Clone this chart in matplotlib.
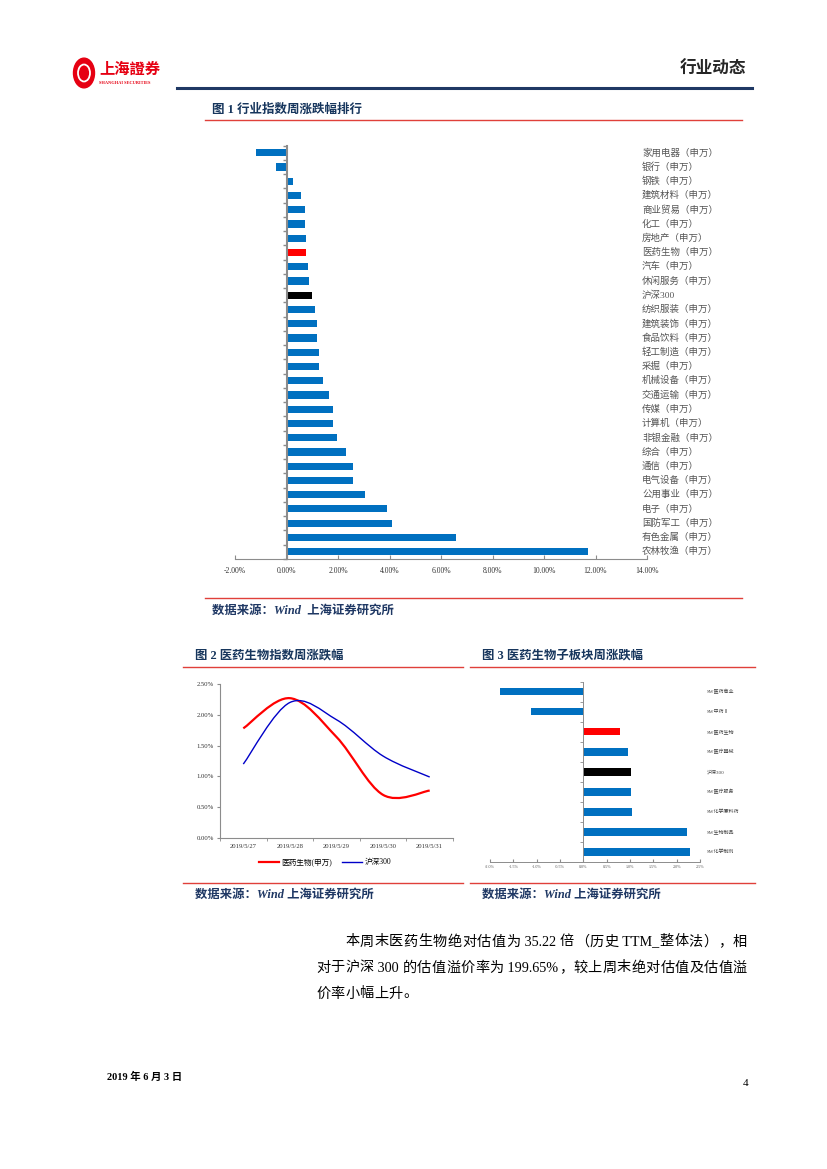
import re
import numpy as np
import matplotlib
matplotlib.use("Agg")
import matplotlib.pyplot as plt
from matplotlib.lines import Line2D
from matplotlib.path import Path
from matplotlib.patches import PathPatch, Circle

plt.rcParams['font.family'] = ['Liberation Serif', 'Noto Sans CJK SC']

# ---- data ----
# figure 1: industry index weekly change (%)
industries = ['家用电器（申万）', '银行（申万）', '钢铁（申万）', '建筑材料（申万）', '商业贸易（申万）',
              '化工（申万）', '房地产（申万）', '医药生物（申万）', '汽车（申万）', '休闲服务（申万）',
              '沪深300', '纺织服装（申万）', '建筑装饰（申万）', '食品饮料（申万）', '轻工制造（申万）',
              '采掘（申万）', '机械设备（申万）', '交通运输（申万）', '传媒（申万）', '计算机（申万）',
              '非银金融（申万）', '综合（申万）', '通信（申万）', '电气设备（申万）', '公用事业（申万）',
              '电子（申万）', '国防军工（申万）', '有色金属（申万）', '农林牧渔（申万）']
industry_change = [-1.18, -0.39, 0.26, 0.57, 0.73, 0.73, 0.77, 0.77, 0.84, 0.89,
                   1.00, 1.12, 1.20, 1.20, 1.28, 1.28, 1.43, 1.66, 1.82, 1.82,
                   1.97, 2.32, 2.59, 2.59, 3.06, 3.90, 4.10, 6.58, 11.72]

# figure 2: daily change of the pharma index vs CSI 300 (%)
dates = ['2019/5/27', '2019/5/28', '2019/5/29', '2019/5/30', '2019/5/31']
pharma_daily = [1.78, 2.27, 1.64, 0.70, 0.77]
hs300_daily = [1.20, 2.20, 1.92, 1.33, 0.99]

# figure 3: pharma sub-sector weekly change (%)
sub_sectors = ['SW医药商业', 'SW中药Ⅱ', 'SW医药生物', 'SW医疗器械', '沪深300',
               'SW医疗服务', 'SW化学原料药', 'SW生物制品', 'SW化学制剂']
sub_change = [-1.79, -1.12, 0.78, 0.95, 1.02, 1.02, 1.04, 2.22, 2.28]

# body paragraph, one entry per printed line
body_lines = ['本周末医药生物绝对估值为 35.22 倍（历史 TTM_整体法），相',
              '对于沪深 300 的估值溢价率为 199.65%，较上周末绝对估值及估值溢',
              '价率小幅上升。']

BLUE = '#0070C0'
NAVY = '#17365D'
RED_LINE = '#E0403A'
AXIS = '#8C8C8C'

W, H = 827, 1169
fig = plt.figure(figsize=(W / 100, H / 100), dpi=100)
renderer = fig.canvas.get_renderer()


def box(x0, y0, x1, y1):
    return [x0 / W, 1 - y1 / H, (x1 - x0) / W, (y1 - y0) / H]


def ftext(x, y, s, **kw):
    kw.setdefault('va', 'center')
    return fig.text(x / W, 1 - y / H, s, **kw)


def hline(x0, x1, y, color, lw):
    fig.add_artist(Line2D([x0 / W, x1 / W], [1 - y / H, 1 - y / H],
                          transform=fig.transFigure, color=color, lw=lw))


def justify(line, x0, x1, y, size, gap=None):
    # spread the characters of one line between x0 and x1 like a justified paragraph
    units = re.findall(r' ?[A-Za-z0-9._%]+ ?|\S', line)
    texts = [ftext(0, y, u, fontsize=size, color='black') for u in units]
    widths = [t.get_window_extent(renderer).width for t in texts]
    if gap is None:
        gap = (x1 - x0 - sum(widths)) / (len(units) - 1)
    x = x0
    for t, w in zip(texts, widths):
        t.set_x(x / W)
        x += w + gap
    return gap


def bar_color(name):
    if name.startswith('沪深'):
        return 'black'
    if '医药生物' in name:
        return 'red'
    return BLUE


# ---- header ----
fig.add_artist(Circle((84 / W, 1 - 73 / H), 10.5 / W, transform=fig.transFigure,
                      color='#E60012'))
fig.add_artist(Circle((84 / W, 1 - 73 / H), 6 / W, transform=fig.transFigure,
                      facecolor='none', edgecolor='white', lw=1.3))
ftext(99, 70, '上海證券', fontsize=11, fontweight='bold', color='#E60012')
ftext(99, 83, 'SHANGHAI SECURITIES', fontsize=3.2, fontweight='bold', color='#E60012')
ftext(746, 70, '行业动态', fontsize=12, fontweight='bold', color='#262626', ha='right')
hline(177, 752, 88, '#1F3864', 2.2)

# ---- figure 1 ----
ftext(212, 110, '图 1 行业指数周涨跌幅排行', fontsize=9, fontweight='bold', color=NAVY)
hline(205, 742, 120, RED_LINE, 1.0)

ax1 = fig.add_axes(box(235, 145.6, 647, 558.8))
ypos = np.arange(len(industries))
ax1.barh(ypos, industry_change, height=0.5, color=[bar_color(n) for n in industries])
ax1.set_xlim(-2, 14)
ax1.set_ylim(len(industries) - 0.5, -0.5)
for s in ['top', 'right']:
    ax1.spines[s].set_visible(False)
ax1.spines['left'].set_position(('data', 0))
ax1.spines['left'].set_color(AXIS)
ax1.spines['left'].set_linewidth(1.5)
ax1.spines['bottom'].set_color(AXIS)
ax1.spines['bottom'].set_linewidth(0.8)
ax1.set_yticks(np.arange(-0.5, len(industries), 1))
ax1.set_yticklabels([])
ax1.tick_params(axis='y', direction='out', length=3, color=AXIS, width=1)
xt = np.arange(-2, 15, 2)
ax1.set_xticks(xt)
ax1.set_xticklabels([f'{v:.2f}%' for v in xt], fontsize=5.5, color='#333333')
ax1.tick_params(axis='x', direction='in', length=3, color=AXIS, pad=6)
for i, name in enumerate(industries):
    ax1.text(0.988, i, name, transform=ax1.get_yaxis_transform(), fontsize=6.8,
             va='center', ha='left', color='#555555', clip_on=False)

hline(205, 742, 598, RED_LINE, 1.0)
ftext(212, 611, '数据来源：Wind  上海证券研究所', fontsize=8.9, fontweight='bold',
      fontstyle='italic', color='#1F3864')

# ---- figure 2 / figure 3 titles ----
ftext(195, 656, '图 2 医药生物指数周涨跌幅', fontsize=8.9, fontweight='bold', color=NAVY)
ftext(482, 656, '图 3 医药生物子板块周涨跌幅', fontsize=8.9, fontweight='bold', color=NAVY)
hline(183, 463, 667, RED_LINE, 1.0)
hline(470, 755, 667, RED_LINE, 1.0)

# ---- figure 2: smoothed lines ----
ax2 = fig.add_axes(box(220, 684, 453, 838))


def smooth_path(xs, ys):
    pts = np.column_stack([xs, ys]).astype(float)
    ext = np.vstack([pts[0], pts, pts[-1]])
    verts = [pts[0]]
    codes = [Path.MOVETO]
    for k in range(len(pts) - 1):
        p0, p1, p2, p3 = ext[k], ext[k + 1], ext[k + 2], ext[k + 3]
        verts += [p1 + (p2 - p0) / 6, p2 - (p3 - p1) / 6, p2]
        codes += [Path.CURVE4] * 3
    return Path(verts, codes)


xi = np.arange(len(dates))
ax2.add_patch(PathPatch(smooth_path(xi, pharma_daily), facecolor='none',
                        edgecolor='#FF0000', lw=1.6))
ax2.add_patch(PathPatch(smooth_path(xi, hs300_daily), facecolor='none',
                        edgecolor='#0000C8', lw=1.0))
ax2.set_xlim(-0.5, len(dates) - 0.5)
ax2.set_ylim(0, 2.5)
for s in ['top', 'right']:
    ax2.spines[s].set_visible(False)
for s in ['left', 'bottom']:
    ax2.spines[s].set_color(AXIS)
    ax2.spines[s].set_linewidth(0.8)
yt = np.arange(0, 2.51, 0.5)
ax2.set_yticks(yt)
ax2.set_yticklabels([f'{v:.2f}%' for v in yt], fontsize=4.8, color='#333333')
ax2.tick_params(axis='y', direction='out', length=2.5, color=AXIS, pad=2)
ax2.set_xticks(xi)
ax2.set_xticklabels(dates, fontsize=4.8, color='#333333')
ax2.set_xticks(np.arange(-0.5, len(dates), 1), minor=True)
ax2.tick_params(axis='x', which='major', length=0, pad=4)
ax2.tick_params(axis='x', which='minor', direction='out', length=2.5, color=AXIS)
handles = [Line2D([], [], color='#FF0000', lw=1.6), Line2D([], [], color='#0000C8', lw=1.0)]
ax2.legend(handles, ['医药生物(申万)', '沪深300'], loc='center', bbox_to_anchor=(0.45, -0.158),
           ncol=2, frameon=False, fontsize=5.5, handlelength=2.6, columnspacing=1.4,
           handletextpad=0.3)

# ---- figure 3 ----
ax3 = fig.add_axes(box(490, 681.7, 700, 862))
y3 = np.arange(len(sub_sectors))
ax3.barh(y3, sub_change, height=0.37, color=[bar_color(n) for n in sub_sectors])
ax3.set_xlim(-2, 2.5)
ax3.set_ylim(len(sub_sectors) - 0.5, -0.5)
for s in ['top', 'right']:
    ax3.spines[s].set_visible(False)
ax3.spines['left'].set_position(('data', 0))
ax3.spines['left'].set_color(AXIS)
ax3.spines['left'].set_linewidth(0.7)
ax3.spines['bottom'].set_color(AXIS)
ax3.spines['bottom'].set_linewidth(0.7)
ax3.set_yticks(np.arange(-0.5, len(sub_sectors), 1))
ax3.set_yticklabels([])
ax3.tick_params(axis='y', direction='out', length=2, color=AXIS, width=0.6)
xt3 = np.arange(-2, 2.51, 0.5)
ax3.set_xticks(xt3)
ax3.set_xticklabels([f'{v:.1f}%' for v in xt3], fontsize=3, color='#555555')
ax3.tick_params(axis='x', direction='in', length=2, color=AXIS, pad=2)
for i, name in enumerate(sub_sectors):
    ax3.text(1.033, i, name, transform=ax3.get_yaxis_transform(), fontsize=3.6,
             va='center', ha='left', color='#444444', clip_on=False)

hline(183, 463, 883, RED_LINE, 1.0)
hline(470, 755, 883, RED_LINE, 1.0)
ftext(195, 895, '数据来源：Wind 上海证券研究所', fontsize=8.9, fontweight='bold',
      fontstyle='italic', color='#1F3864')
ftext(482, 895, '数据来源：Wind 上海证券研究所', fontsize=8.9, fontweight='bold',
      fontstyle='italic', color='#1F3864')

# ---- body text ----
body_size = 10.2
justify(body_lines[0], 345, 747, 942, body_size)
gap = justify(body_lines[1], 316, 747, 968, body_size)
justify(body_lines[2], 316, None, 994, body_size, gap=gap)

# ---- footer ----
ftext(107, 1077, '2019 年 6 月 3 日', fontsize=7.5, fontweight='bold', color='black')
ftext(748, 1083, '4', fontsize=8, color='black', ha='right')

fig.savefig('out.png', dpi=100)
